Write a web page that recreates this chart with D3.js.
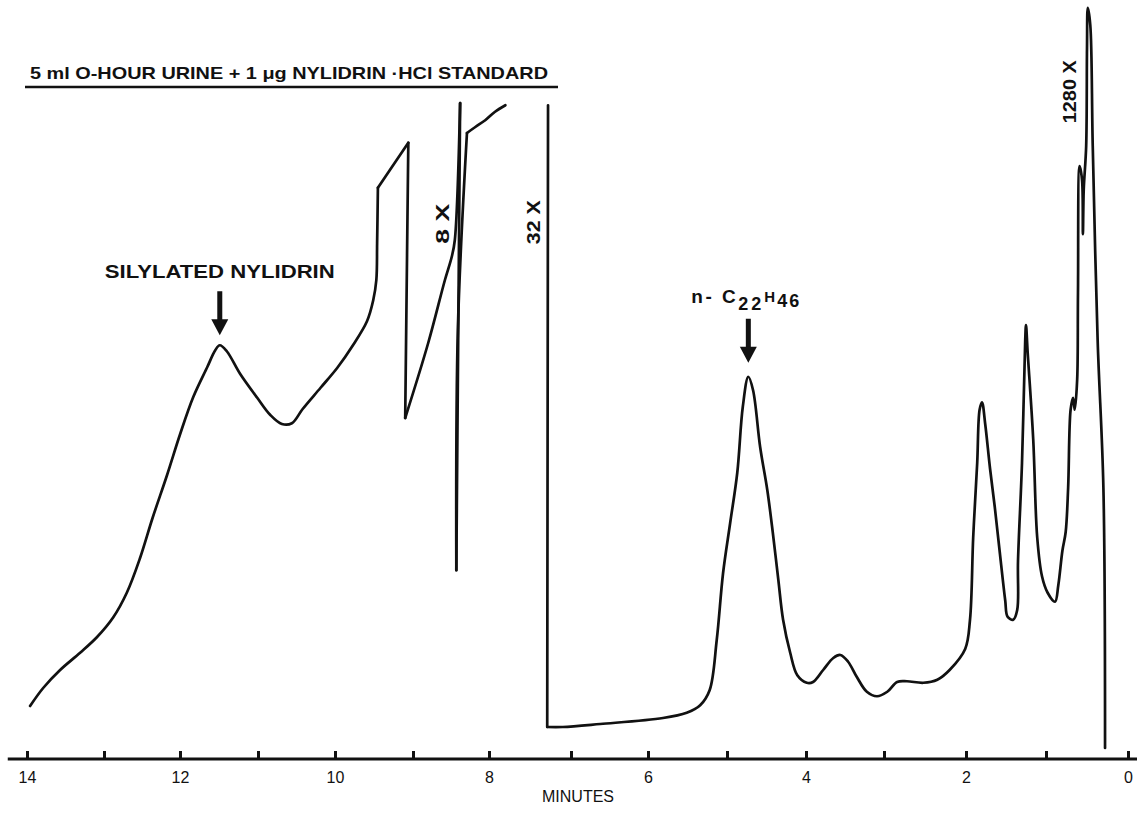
<!DOCTYPE html>
<html>
<head>
<meta charset="utf-8">
<script src="https://cdn.jsdelivr.net/npm/d3@7"></script>
<style>
  body { margin: 0; background: #fff; }
  svg { display: block; }
</style>
</head>
<body>
<svg id="chart" width="1137" height="814"></svg>
<script>
// retention time (minutes) and detector response (% of chart)
const traceEarly = [
  [13.96, 6.8], [13.79, 9.2], [13.57, 11.6], [13.31, 13.9], [13.09, 16.0],
  [12.88, 18.6], [12.70, 21.9], [12.53, 26.4], [12.36, 31.9], [12.17, 37.6],
  [12.00, 43.0], [11.83, 48.0], [11.65, 52.0], [11.55, 54.2], [11.49, 54.9],
  [11.40, 54.1], [11.23, 51.1], [11.01, 47.9], [10.84, 45.6], [10.69, 44.4],
  [10.56, 44.5], [10.42, 46.4], [10.19, 49.2], [9.97, 51.9], [9.77, 54.9],
  [9.59, 58.1], [9.51, 60.9], [9.47, 63.6], [9.46, 68.5], [9.45, 75.9],
  [9.06, 81.9], [9.10, 45.2], [8.80, 55.2], [8.58, 63.6], [8.49, 66.7],
  [8.45, 68.9], [8.38, 87.2], [8.43, 24.9], [8.41, 56.9], [8.29, 83.2],
  [8.18, 84.0], [8.05, 84.9], [7.93, 86.0], [7.80, 86.9]
]

const traceLate = [
  [7.28, 86.9], [7.29, 4.0], [7.10, 4.0], [6.62, 4.4], [5.81, 5.2],
  [5.51, 5.9], [5.34, 6.9], [5.22, 8.9], [5.13, 15.6], [5.05, 24.5],
  [4.96, 31.2], [4.87, 37.9], [4.80, 46.7], [4.73, 50.7], [4.67, 48.9],
  [4.58, 41.3], [4.49, 35.6], [4.42, 29.9], [4.35, 23.6], [4.29, 18.3],
  [4.20, 13.9], [4.11, 10.9], [3.99, 9.9], [3.91, 10.0], [3.78, 11.6],
  [3.65, 13.2], [3.56, 13.6], [3.46, 12.7], [3.35, 10.7], [3.22, 8.7],
  [3.09, 8.1], [2.96, 8.7], [2.84, 10.0], [2.72, 10.1], [2.52, 9.9],
  [2.35, 10.3], [2.20, 11.6], [2.01, 14.4], [1.95, 18.3],
  [1.91, 29.3], [1.86, 39.2], [1.83, 46.3], [1.80, 47.3], [1.76, 44.4],
  [1.70, 38.5], [1.64, 33.3], [1.58, 27.5], [1.51, 20.9], [1.48, 18.7],
  [1.41, 18.3], [1.36, 19.6], [1.35, 26.1], [1.30, 39.2], [1.26, 55.5],
  [1.25, 57.6], [1.23, 54.1], [1.16, 42.4], [1.11, 29.3], [1.05, 24.1],
  [0.98, 21.9], [0.89, 20.7], [0.85, 22.9], [0.80, 27.5], [0.76, 30.0],
  [0.73, 35.9], [0.70, 46.3], [0.67, 47.9], [0.65, 46.3], [0.62, 50.3],
  [0.61, 61.9], [0.59, 78.8], [0.56, 76.9], [0.55, 69.7], [0.54, 75.6],
  [0.51, 81.5], [0.50, 94.4], [0.49, 99.9], [0.46, 97.6], [0.43, 81.5],
  [0.37, 55.5], [0.30, 35.9], [0.28, 1.2]
]

// pen turns sharply here (attenuation switches), don't smooth across them
const cornerTimes = [9.45, 9.06, 9.10, 8.38, 8.43, 8.29, 7.29]

const tickMinutes = d3.range(0, 15)
const tickLabels = ['0', '', '2', '', '4', '', '6', '', '8', '', '10', '', '12', '', '14']

// attenuation marks written on the chart paper
const attenLabels = ['8 X', '32 X', '1280 X']
const attenTimes = [8.61, 7.45, 0.71]
const attenHeights = [71.1, 71.3, 88.7]

// peaks that get an arrow
const peakNames = ['SILYLATED NYLIDRIN', 'n-C22H46']
const peakTimes = [11.49, 4.73]
const peakHeights = [54.9, 50.7]

const titleText = '5 ml O-HOUR URINE + 1 \u03bcg NYLIDRIN \u00b7HCl STANDARD'

const svg = d3.select('#chart')
const W = +svg.attr('width')
const H = +svg.attr('height')
const ink = '#111'
const font = "'Liberation Sans', Arial, Helvetica, sans-serif"

svg.append('rect').attr('width', W).attr('height', H).attr('fill', '#fff')

// chart paper minute lines are not quite evenly spaced, so follow the tick marks
const x = d3.scaleLinear()
  .domain([14, 13, 12, 11, 10, 9, 8, 7, 6, 5, 4, 3, 2, 1, 0])
  .range([27, 104, 180, 258, 335, 413, 489, 571, 648, 727, 806, 884, 966, 1046, 1128])

const y = d3.scaleLinear().domain([0, 100]).range([757, 7])

const axisY = 759

// axis
const axis = d3.axisBottom(x)
  .tickValues(tickMinutes)
  .tickFormat(d => tickLabels[d])
  .tickSize(-8)
  .tickSizeOuter(0)
  .tickPadding(13)

const gAxis = svg.append('g')
  .attr('transform', `translate(0,${axisY})`)
  .call(axis)

gAxis.select('.domain').remove()
gAxis.selectAll('.tick line').attr('stroke', ink).attr('stroke-width', 3)
gAxis.selectAll('.tick text')
  .attr('fill', ink)
  .style('font-family', font)
  .style('font-size', '16px')

gAxis.append('line')
  .attr('x1', x(14.25)).attr('x2', x(-0.12))
  .attr('stroke', ink).attr('stroke-width', 3)

svg.append('text')
  .attr('x', 578).attr('y', axisY + 43)
  .attr('text-anchor', 'middle')
  .attr('fill', ink)
  .style('font-family', font)
  .style('font-size', '16px')
  .text('MINUTES')

// trace, split at the sharp pen corners
const splitAt = (pts, corners) => {
  const out = []
  let cur = []
  pts.forEach(p => {
    cur.push(p)
    if (corners.includes(p[0])) {
      out.push(cur)
      cur = [p]
    }
  })
  if (cur.length > 1) out.push(cur)
  return out
}

const pieces = splitAt(traceEarly, cornerTimes).concat(splitAt(traceLate, cornerTimes))

const line = d3.line()
  .x(d => x(d[0]))
  .y(d => y(d[1]))
  .curve(d3.curveCatmullRom.alpha(0.5))

svg.selectAll('path.trace')
  .data(pieces)
  .join('path')
    .attr('class', 'trace')
    .attr('d', line)
    .attr('fill', 'none')
    .attr('stroke', ink)
    .attr('stroke-width', 2.7)
    .attr('stroke-linejoin', 'round')
    .attr('stroke-linecap', 'round')

// title
svg.append('text')
  .attr('x', 30).attr('y', 79)
  .attr('textLength', 518)
  .attr('lengthAdjust', 'spacingAndGlyphs')
  .attr('fill', ink)
  .style('font-family', font)
  .style('font-weight', 'bold')
  .style('font-size', '17px')
  .text(titleText)

svg.append('line')
  .attr('x1', 25).attr('x2', 558)
  .attr('y1', 87).attr('y2', 87)
  .attr('stroke', ink).attr('stroke-width', 2.5)

// attenuation labels, written sideways
const attenLen = [40, 44, 63]
svg.selectAll('text.atten')
  .data(attenLabels)
  .join('text')
    .attr('class', 'atten')
    .attr('transform', (d, i) => `translate(${x(attenTimes[i])},${y(attenHeights[i])}) rotate(-90)`)
    .attr('text-anchor', 'middle')
    .attr('dominant-baseline', 'central')
    .attr('textLength', (d, i) => attenLen[i])
    .attr('lengthAdjust', 'spacingAndGlyphs')
    .attr('fill', ink)
    .style('font-family', font)
    .style('font-weight', 'bold')
    .style('font-size', '18px')
    .text(d => d)

// arrows over the marked peaks
const arrow = (t, r, gap) => {
  const cx = x(t)
  const tip = y(r) - gap
  const top = tip - 44
  const g = svg.append('g').attr('fill', ink)
  g.append('rect').attr('x', cx - 2.5).attr('y', top).attr('width', 5).attr('height', tip - top - 14)
  g.append('path').attr('d', `M${cx - 8.5},${tip - 16}L${cx + 8.5},${tip - 16}L${cx},${tip}Z`)
  return top
}

const topA = arrow(peakTimes[0], peakHeights[0], 10)
svg.append('text')
  .attr('x', x(peakTimes[0])).attr('y', topA - 13)
  .attr('text-anchor', 'middle')
  .attr('textLength', 230)
  .attr('lengthAdjust', 'spacingAndGlyphs')
  .attr('fill', ink)
  .style('font-family', font)
  .style('font-weight', 'bold')
  .style('font-size', '18px')
  .text(peakNames[0])

const topB = arrow(peakTimes[1], peakHeights[1], 14)
const lab = svg.append('text')
  .attr('x', x(peakTimes[1]) - 57).attr('y', topB - 16)
  .attr('fill', ink)
  .style('font-family', font)
  .style('font-weight', 'bold')
  .style('font-size', '19px')
lab.append('tspan').style('letter-spacing', '2.5px').text('n- C')
lab.append('tspan').attr('dy', 7).style('font-size', '18px').style('letter-spacing', '3px').text('22')
lab.append('tspan').attr('dy', -8).style('font-size', '15px').style('letter-spacing', '2px').text('H')
lab.append('tspan').attr('dy', 5).style('font-size', '18px').style('letter-spacing', '2px').text('46')
</script>
</body>
</html>
